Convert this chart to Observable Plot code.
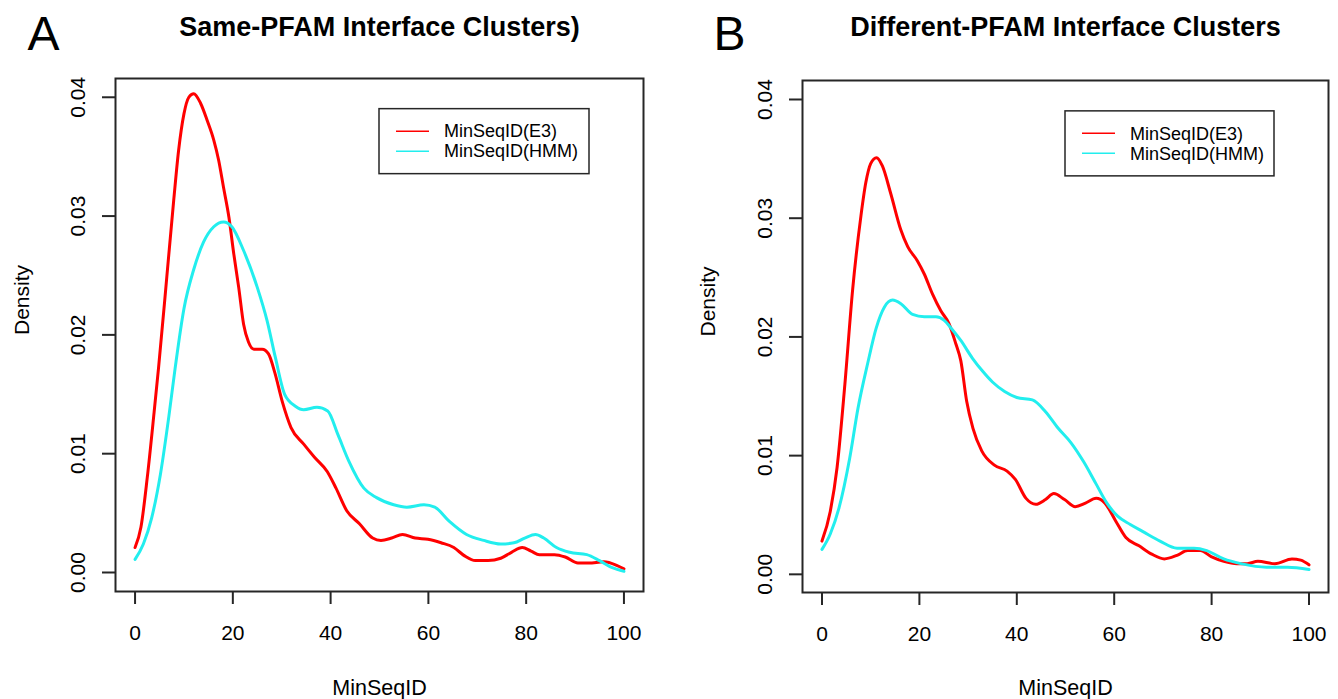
<!DOCTYPE html>
<html><head><meta charset="utf-8">
<script src="https://cdn.jsdelivr.net/npm/d3@7"></script>
<script src="https://cdn.jsdelivr.net/npm/@observablehq/plot@0.6"></script>
<style>
body{margin:0;background:#fff;}
#wrap{display:flex;width:1338px;height:699px;overflow:hidden;}
</style></head><body><div id="wrap"></div><script>
// ---- data ----
const xTicks = [0, 20, 40, 60, 80, 100];
const yTicks = [0, 0.01, 0.02, 0.03, 0.04];
const seriesNames = ["MinSeqID(E3)", "MinSeqID(HMM)"];
const seriesColors = ["#ff0000", "#22eeee"];
const panelLetters = ["A", "B"];
const panelTitles = ["Same-PFAM Interface Clusters)", "Different-PFAM Interface Clusters"];
const xLabel = "MinSeqID";
const yLabel = "Density";
const legendAnchor = [50, 0.039];

// Panel A: Same-PFAM
const sameE3X = [0, 1.2, 2.5, 3.9, 4.8, 6.5, 7.9, 8.9, 10, 11, 12, 13.4, 14.8, 16.1, 17.1, 18.1, 19.2, 20.2, 21.2, 22.2, 23.2, 24.3, 26, 27.3, 28.6, 30.1, 31.9, 34.5, 36.7, 39.3, 41.1, 43.3, 45.9, 48.6, 50.3, 52.5, 54.7, 57.3, 59.9, 62.6, 65.2, 67.4, 69.6, 72.2, 74.8, 77, 79.2, 81, 82.7, 85.8, 88, 90.6, 92.8, 95.9, 98.5, 100];
const sameE3Y = [0.0021, 0.0038, 0.0080, 0.0135, 0.0172, 0.0249, 0.0313, 0.0355, 0.0386, 0.0400, 0.0403, 0.0395, 0.0380, 0.0364, 0.0347, 0.0324, 0.0299, 0.0268, 0.0240, 0.0209, 0.0194, 0.0188, 0.0188, 0.0184, 0.0168, 0.0144, 0.0122, 0.0108, 0.0097, 0.0085, 0.0071, 0.0052, 0.0041, 0.0029, 0.0027, 0.0029, 0.0032, 0.0029, 0.0028, 0.0025, 0.0021, 0.0014, 0.0010, 0.0010, 0.0012, 0.0017, 0.0021, 0.0018, 0.0015, 0.0015, 0.0013, 0.0008, 0.0008, 0.0009, 0.0006, 0.0003];
const sameHmmX = [0, 1.7, 3.4, 5.2, 6.9, 8.2, 10, 12, 14, 16.1, 18.1, 19.8, 22.2, 25, 27, 28.7, 30.6, 32.8, 34.5, 37.2, 39.4, 41.5, 43.7, 46.8, 49.4, 52.9, 55.6, 59.1, 61.3, 64.3, 67.8, 71.3, 74.8, 77.5, 79.7, 81.9, 83.6, 86.2, 88.9, 92.4, 95, 97.6, 100];
const sameHmmY = [0.0011, 0.0024, 0.0046, 0.0083, 0.0131, 0.0172, 0.0222, 0.0255, 0.0278, 0.0291, 0.0295, 0.0291, 0.0271, 0.0240, 0.0212, 0.0181, 0.0150, 0.0140, 0.0137, 0.0139, 0.0136, 0.0116, 0.0094, 0.0071, 0.0063, 0.0057, 0.0055, 0.0057, 0.0055, 0.0043, 0.0032, 0.0027, 0.0024, 0.0025, 0.0029, 0.0032, 0.0029, 0.0021, 0.0017, 0.0015, 0.0010, 0.0004, 0.0001];

// Panel B: Different-PFAM
const diffE3X = [0, 1.7, 3.1, 4.7, 6.3, 8, 9, 10, 11.2, 12.4, 14.1, 16.2, 17.6, 19.6, 21, 22.7, 24.4, 26.1, 27.5, 28.5, 29.7, 31, 32.8, 35.4, 38, 39.7, 41.9, 43.9, 45.9, 47.6, 49.8, 52, 54.1, 56.3, 58.1, 60.3, 62.4, 65.1, 67.7, 70.3, 72.9, 75.1, 77.7, 79.9, 82.5, 85.2, 87.3, 89.5, 93, 96.5, 98.3, 100];
const diffE3Y = [0.0028, 0.0053, 0.0090, 0.0160, 0.0240, 0.0302, 0.0330, 0.0346, 0.0351, 0.0344, 0.0321, 0.0290, 0.0276, 0.0264, 0.0253, 0.0236, 0.0222, 0.0211, 0.0194, 0.0180, 0.0146, 0.0123, 0.0104, 0.0092, 0.0087, 0.0080, 0.0064, 0.0059, 0.0063, 0.0068, 0.0063, 0.0057, 0.0060, 0.0064, 0.0060, 0.0045, 0.0031, 0.0024, 0.0017, 0.0013, 0.0016, 0.0020, 0.0020, 0.0015, 0.0011, 0.0009, 0.0009, 0.0011, 0.0009, 0.0013, 0.0012, 0.0008];
const diffHmmX = [0, 1.7, 3.5, 5.7, 7.4, 9.4, 11.1, 12.8, 14.5, 16.2, 18.6, 21, 23.4, 25.1, 26.4, 28.5, 30.9, 33, 35, 37.5, 40, 43.2, 45.9, 48.5, 51.1, 53.7, 56.3, 58.5, 60.7, 63.3, 65.9, 69.4, 72.9, 76.4, 79, 82.5, 86, 91.3, 95.6, 100];
const diffHmmY = [0.0021, 0.0034, 0.0056, 0.0098, 0.0140, 0.0178, 0.0207, 0.0225, 0.0231, 0.0228, 0.0219, 0.0217, 0.0217, 0.0214, 0.0208, 0.0197, 0.0182, 0.0171, 0.0162, 0.0154, 0.0149, 0.0147, 0.0137, 0.0123, 0.0111, 0.0095, 0.0076, 0.0060, 0.0049, 0.0042, 0.0036, 0.0028, 0.0022, 0.0022, 0.0020, 0.0013, 0.0009, 0.0006, 0.0006, 0.0004];

const FONT = "'Liberation Sans', Arial, Helvetica, sans-serif";
const INK = "#262626";

function rows(xs, ys, s) { return xs.map((x, i) => ({x, y: ys[i], s})); }

function panel(cfg) {
  const data = [...rows(cfg.e3x, cfg.e3y, seriesNames[0]), ...rows(cfg.hx, cfg.hy, seriesNames[1])];
  const H = 699;
  const frameBottom = H - cfg.mb;
  const p = Plot.plot({
    width: cfg.width, height: H,
    marginLeft: cfg.ml, marginRight: cfg.mr, marginTop: cfg.mt, marginBottom: cfg.mb,
    style: {fontFamily: FONT, background: "white", color: "black", overflow: "visible"},
    x: {domain: [-4, 104]},
    y: {domain: cfg.ydom},
    color: {domain: seriesNames, range: seriesColors},
    marks: [
      Plot.axisX({ticks: xTicks, tickSize: 13, tickPadding: 21, fontSize: 21, label: null, stroke: INK, strokeWidth: 2, fill: "black"}),
      Plot.axisY({ticks: yTicks, tickSize: 13, tickPadding: 18, tickRotate: -90, tickFormat: d => d.toFixed(2), fontSize: 21, label: null, stroke: INK, strokeWidth: 2, fill: "black"}),
      Plot.line(data, {x: "x", y: "y", z: "s", stroke: "s", strokeWidth: 3, curve: "monotone-x"}),
      Plot.frame({stroke: INK, strokeWidth: 2}),
      Plot.text([cfg.title], {frameAnchor: "top", dy: cfg.titleBase - cfg.mt, lineAnchor: "bottom", fontSize: 27, fontWeight: "bold"}),
      Plot.text([cfg.letter], {frameAnchor: "top-left", dx: cfg.letterX - cfg.ml, dy: cfg.letterBase - cfg.mt, textAnchor: "start", lineAnchor: "bottom", fontSize: 48}),
      Plot.text([xLabel], {frameAnchor: "bottom", dy: 694 - frameBottom, lineAnchor: "bottom", fontSize: 21.5}),
      Plot.text([yLabel], {frameAnchor: "left", dx: cfg.densX - cfg.ml, rotate: -90, lineAnchor: "bottom", fontSize: 21})
    ]
  });
  // legend anchored at data coordinates (top-left corner)
  const sx = p.scale("x").apply(legendAnchor[0]);
  const sy = p.scale("y").apply(legendAnchor[1]);
  const g = d3.select(p).append("g").attr("transform", `translate(${sx},${sy})`)
    .style("text-anchor", "start").style("font-size", "18px");
  g.append("rect").attr("x", 0).attr("y", 0).attr("width", cfg.legW).attr("height", 65)
    .attr("fill", "white").attr("stroke", INK).attr("stroke-width", 1.5);
  seriesNames.forEach((name, i) => {
    const cy = 22.5 + i * 20;
    g.append("line").attr("x1", 17).attr("x2", 50).attr("y1", cy).attr("y2", cy)
      .attr("stroke", seriesColors[i]).attr("stroke-width", 1.5);
    g.append("text").attr("x", 65).attr("y", cy + 6.3)
      .style("text-anchor", "start").style("font-size", "18px")
      .attr("fill", "black").text(name);
  });
  return p;
}

const wrap = document.getElementById("wrap");
wrap.appendChild(panel({
  width: 669, ml: 115, mr: 26, mt: 78, mb: 108, ydom: [-0.0016, 0.04158],
  e3x: sameE3X, e3y: sameE3Y, hx: sameHmmX, hy: sameHmmY,
  title: panelTitles[0], letter: panelLetters[0], titleBase: 35, letterX: 27, letterBase: 49, densX: 28, legW: 210
}));
wrap.appendChild(panel({
  width: 669, ml: 133, mr: 10, mt: 80, mb: 107, ydom: [-0.00153, 0.0416],
  e3x: diffE3X, e3y: diffE3Y, hx: diffHmmX, hy: diffHmmY,
  title: panelTitles[1], letter: panelLetters[1], titleBase: 35, letterX: 44, letterBase: 49, densX: 45, legW: 209
}));
</script></body></html>
